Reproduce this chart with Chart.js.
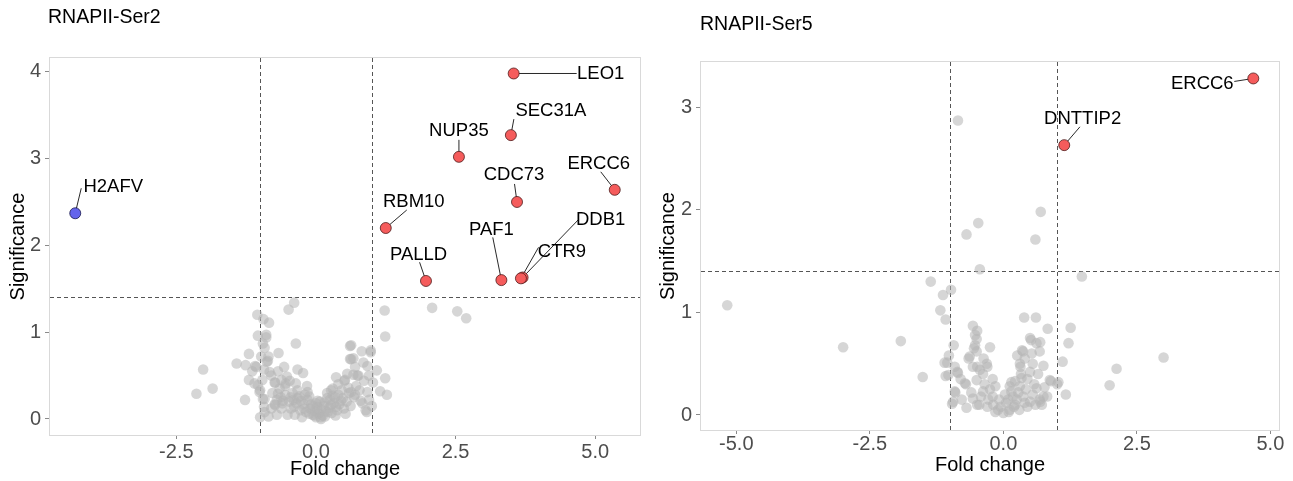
<!DOCTYPE html>
<html><head><meta charset="utf-8">
<script src="https://cdn.jsdelivr.net/npm/chart.js@4/dist/chart.umd.min.js"></script>
<style>
html,body{margin:0;padding:0;background:#fff;width:1293px;height:481px;overflow:hidden}
#c1{position:absolute;left:0;top:0}
#c2{position:absolute;left:650px;top:0}
</style></head><body>
<canvas id="c1" width="650" height="481"></canvas>
<canvas id="c2" width="643" height="481"></canvas>
<script>
// ---------------- DATA ----------------
const ser2Title = 'RNAPII-Ser2';
const ser5Title = 'RNAPII-Ser5';
const xAxisTitle = 'Fold change';
const yAxisTitle = 'Significance';

const fcThresholds = [-1, 1];
const sigThreshold = 1.4;

const ser2XTicks = [-2.5, 0, 2.5, 5];
const ser2YTicks = [0, 1, 2, 3, 4];
const ser5XTicks = [-5, -2.5, 0, 2.5, 5];
const ser5YTicks = [0, 1, 2, 3];

// Ser2 significant up (red)
const ser2UpGenes = ['LEO1','SEC31A','NUP35','ERCC6','CDC73','RBM10','PAF1','DDB1','CTR9','PALLD'];
const ser2UpFC    = [3.54, 3.49, 2.56, 5.35, 3.60, 1.25, 3.32, 3.70, 3.67, 1.97];
const ser2UpSig   = [3.98, 3.27, 3.02, 2.64, 2.50, 2.20, 1.60, 1.63, 1.62, 1.59];
// Ser2 significant down (blue)
const ser2DownGenes = ['H2AFV'];
const ser2DownFC    = [-4.31];
const ser2DownSig   = [2.37];

// Ser2 non-significant (grey) [fold change, significance]
const ser2Grey = [
[-0.39,1.34],[-0.49,1.26],[-1.05,1.20],[-0.94,1.15],[-0.84,1.11],[-1.04,0.96],[-0.89,0.97],[-0.36,0.87],
[-0.92,0.82],[-1.20,0.75],[-0.67,0.76],[-0.85,0.72],[-0.88,0.66],[-1.42,0.64],[-1.26,0.62],[-1.09,0.61],
[-2.02,0.57],[-1.14,0.55],[-0.93,0.57],[-0.83,0.54],[-0.33,0.57],[-0.23,0.53],[-1.20,0.45],[-0.73,0.42],
[-0.52,0.49],[-1.04,0.39],[-1.85,0.35],[-2.14,0.29],[-1.00,0.33],[-0.36,0.41],[-0.16,0.38],[-1.27,0.22],
[-0.95,0.23],[-0.73,0.16],[-0.63,0.25],[-0.51,0.05],[-0.93,0.14],
[1.23,1.25],[2.08,1.28],[2.53,1.24],[2.69,1.16],[1.24,0.95],[0.61,0.84],[0.82,0.78],[0.98,0.79],
[0.61,0.69],[0.67,0.70],[0.92,0.61],[1.09,0.56],[0.67,0.51],[0.76,0.50],[0.52,0.45],[0.86,0.44],
[1.24,0.47],[0.30,0.35],[0.59,0.30],[0.92,0.31],[1.15,0.32],[1.27,0.28],[0.83,0.18],[0.91,0.08],
[0.03,0.21],[0.45,0.21],[0.27,0.16],
[-0.57,0.60],[-0.74,0.42],[-0.54,0.41],[-0.15,0.31],[-0.33,0.33],[-0.68,0.29],[-0.59,0.21],[-0.45,0.25],
[-0.27,0.21],[-0.09,0.17],[0.03,0.10],[-0.03,0.04],[0.09,0.00],[-0.12,0.06],[-0.21,0.12],[-0.39,0.14],
[0.15,0.19],[0.27,0.33],[0.30,0.27],[0.21,0.08],[0.36,0.14],[0.51,0.44],[0.63,0.31],[0.63,0.85],
[0.63,0.69],[0.56,0.52],[0.74,0.50],[0.68,0.25],[0.80,0.21],[0.89,0.10],[-1.10,0.41],[-1.01,0.31],
[-0.92,0.23],[-0.92,0.08],[-0.74,0.17],[-0.86,0.67],[-1.07,0.60],[-0.89,0.94],[0.98,0.77],
[-0.60,0.18],[-0.55,0.28],[-0.48,0.20],[-0.42,0.30],[-0.40,0.22],[-0.35,0.18],[-0.30,0.26],[-0.28,0.10],
[-0.22,0.17],[-0.18,0.08],[-0.15,0.22],[-0.10,0.12],[-0.06,0.05],[-0.05,0.15],[0.00,0.02],[0.02,0.14],
[0.05,0.06],[0.07,0.20],[0.10,0.11],[0.12,0.04],[0.14,0.15],[0.18,0.09],[0.20,0.24],[0.24,0.13],
[0.25,0.22],[0.28,0.07],[0.32,0.18],[0.34,0.25],[0.38,0.10],[0.40,0.28],[0.42,0.17],[0.48,0.24],
[0.50,0.12],[0.55,0.20],[0.58,0.36],[0.62,0.15],[0.70,0.28],[0.72,0.38],[0.78,0.33],[-0.65,0.35],
[-0.70,0.22],[-0.78,0.30],[-0.80,0.12],[-0.62,0.12],[-0.45,0.12],[-0.38,0.05],[-0.33,0.24],[-0.25,0.02],
[-0.20,0.28],[-0.12,0.26],[-0.02,0.09],[0.00,0.18],[0.08,0.02],[0.16,0.03],[0.20,0.30],[0.35,0.04],
[0.46,0.33],[0.53,0.06],[-0.55,0.38],[-0.47,0.44],[-0.62,0.45],[-0.80,0.50],[-0.68,0.55],[-0.96,0.45],
[-0.98,0.72],[-0.95,0.87],[0.40,0.40],[0.36,0.48],[0.70,0.60],[0.85,0.65],[0.95,0.50],[1.02,0.42],
[0.95,0.22],[1.00,0.15],[-1.00,0.02],[-0.85,0.03],[-0.70,0.05]
];

// Ser5 significant up (red)
const ser5UpGenes = ['ERCC6','DNTTIP2'];
const ser5UpFC    = [4.68, 1.14];
const ser5UpSig   = [3.28, 2.63];

// Ser5 non-significant (grey)
const ser5Grey = [
[-0.85,2.87],[0.70,1.98],[-0.47,1.87],[-0.69,1.76],[0.60,1.71],[-0.44,1.42],[1.47,1.35],[-1.36,1.30],
[-0.98,1.22],[-1.13,1.17],[-5.17,1.07],[-1.18,1.02],[-1.08,0.93],[0.39,0.95],[0.61,0.95],[0.83,0.84],
[1.26,0.85],[-0.57,0.87],[-0.49,0.82],[-1.92,0.72],[-3.00,0.66],[1.22,0.70],[-0.50,0.74],[0.52,0.73],
[0.69,0.71],[-0.25,0.66],[-0.93,0.68],[-0.55,0.65],[1.11,0.52],[-1.51,0.37],[1.17,0.20],[1.01,0.30],
[0.89,0.33],[-1.02,0.58],[-1.05,0.51],[-1.08,0.38],[-0.86,0.42],[-0.65,0.55],[-0.37,0.55],[-0.49,0.47],
[-0.30,0.47],[-0.70,0.30],[-0.90,0.22],[-0.96,0.11],[-0.69,0.07],[-0.49,0.10],[-0.15,0.28],[0.26,0.58],
[0.35,0.63],[0.75,0.48],[0.50,0.42],[0.32,0.47],[0.77,0.27],[0.82,0.18],[0.69,0.13],[0.72,0.10],
[3.00,0.56],[2.12,0.45],[1.99,0.29],
[-1.10,0.51],[-0.91,0.47],[-1.03,0.39],[-0.85,0.41],[-0.72,0.31],[-0.91,0.23],[-0.94,0.13],[-0.78,0.15],
[-0.57,0.16],[-0.50,0.34],[-0.44,0.44],[-0.57,0.47],[-0.31,0.50],[-0.63,0.57],[-0.53,0.68],[-0.50,0.62],
[-0.53,0.78],[-0.38,0.23],[-0.28,0.15],[-0.19,0.10],[-0.10,0.05],[0.00,0.02],[0.12,0.05],[0.22,0.10],
[0.09,0.15],[0.15,0.23],[0.15,0.32],[0.31,0.28],[0.37,0.18],[0.34,0.36],[0.31,0.50],[0.50,0.75],
[0.62,0.70],[0.37,0.62],[0.53,0.60],[0.68,0.62],[0.62,0.26],[0.75,0.18],[0.87,0.34],[0.68,0.15],
[0.50,0.13],[1.03,0.32],
[-0.05,0.08],[0.05,0.12],[0.10,0.03],[-0.15,0.03],[0.18,0.18],[0.25,0.15],[0.28,0.22],[0.20,0.08],
[0.30,0.05],[0.40,0.12],[0.42,0.25],[0.45,0.08],[0.55,0.20],[0.60,0.10],[-0.20,0.18],[-0.30,0.08],
[-0.35,0.30],[-0.42,0.18],[-0.25,0.25],[0.03,0.20],[-0.08,0.15],[0.12,0.28],[0.22,0.33],[0.33,0.40],
[0.45,0.35],[0.58,0.30],[-0.60,0.22],[-0.80,0.35],[-0.45,0.10],[0.65,0.40],[0.55,0.50],[0.40,0.55],
[-0.38,0.40],[-0.20,0.35]
];

// ---------------- LAYOUT / STYLE ----------------
const FONT = "'Liberation Sans', Arial, Helvetica, sans-serif";
// label placement (pixel offsets from the point): text centre (dx,dy), segment end (sx,sy)
const ser2LabelLayout = {
  LEO1:{dx:87,dy:0,sx:63,sy:0}, SEC31A:{dx:40,dy:-24,sx:3,sy:-16}, NUP35:{dx:0,dy:-26,sx:0,sy:-17},
  ERCC6:{dx:-16,dy:-26,sx:-14,sy:-18}, CDC73:{dx:-3,dy:-27,sx:-2.5,sy:-18}, RBM10:{dx:28,dy:-26,sx:21,sy:-18},
  PAF1:{dx:-10,dy:-50,sx:-8.6,sy:-42.7}, DDB1:{dx:78,dy:-58,sx:56,sy:-58}, CTR9:{dx:41,dy:-26,sx:17.6,sy:-31},
  PALLD:{dx:-7.4,dy:-26.4,sx:-6.4,sy:-18.7}, H2AFV:{dx:38,dy:-26.6,sx:6,sy:-25}
};
const ser5LabelLayout = {
  ERCC6:{dx:-51,dy:5.3,sx:-19,sy:3}, DNTTIP2:{dx:18.4,dy:-26,sx:15.7,sy:-18.3}
};

function toPts(xs, ys){ return xs.map((x,i)=>({x:x, y:ys[i]})); }
function pairPts(arr){ return arr.map(p=>({x:p[0], y:p[1]})); }

function decorPlugin(cfg){
  return {
    id:'decor',
    beforeDatasetsDraw(chart){
      const {ctx, chartArea:a, scales:{x, y}} = chart;
      ctx.save();
      ctx.strokeStyle = '#d9d9d9'; ctx.lineWidth = 1;
      ctx.strokeRect(Math.round(a.left)+0.5, Math.round(a.top)+0.5, Math.round(a.right-a.left)-1, Math.round(a.bottom-a.top)-1);
      ctx.strokeStyle = '#555'; ctx.setLineDash([4,3]); ctx.lineWidth = 1;
      fcThresholds.forEach(v=>{
        const px = Math.round(x.getPixelForValue(v))+0.5;
        ctx.beginPath(); ctx.moveTo(px, a.top+1); ctx.lineTo(px, a.bottom-1); ctx.stroke();
      });
      const py = Math.round(y.getPixelForValue(sigThreshold))+0.5;
      ctx.beginPath(); ctx.moveTo(a.left+1, py); ctx.lineTo(a.right-1, py); ctx.stroke();
      ctx.setLineDash([]);
      ctx.strokeStyle = '#111'; ctx.lineWidth = 0.9;
      cfg.labels.forEach(l=>{
        const L = cfg.layout[l.name];
        const px = x.getPixelForValue(l.x), pyy = y.getPixelForValue(l.y);
        ctx.beginPath(); ctx.moveTo(px, pyy); ctx.lineTo(px+L.sx, pyy+L.sy); ctx.stroke();
      });
      ctx.restore();
    },
    afterDatasetsDraw(chart){
      const {ctx, scales:{x, y}} = chart;
      ctx.save();
      ctx.fillStyle = '#000'; ctx.font = '18.5px ' + FONT;
      ctx.textAlign = 'center'; ctx.textBaseline = 'middle';
      cfg.labels.forEach(l=>{
        const L = cfg.layout[l.name];
        const px = x.getPixelForValue(l.x), pyy = y.getPixelForValue(l.y);
        ctx.fillText(l.name, px+L.dx, pyy+L.dy);
      });
      ctx.restore();
    },
    afterDraw(chart){
      const ctx = chart.ctx;
      ctx.save();
      ctx.fillStyle = '#000'; ctx.font = '19.5px ' + FONT;
      ctx.textAlign = 'left'; ctx.textBaseline = 'middle';
      ctx.fillText(cfg.title, cfg.titleX, cfg.titleY);
      ctx.restore();
    }
  };
}

function makeChart(canvasId, o){
  const tickFont = {family: FONT, size: 20};
  return new Chart(document.getElementById(canvasId), {
    type:'scatter',
    data:{ datasets: o.datasets },
    options:{
      responsive:false, animation:false, events:[],
      layout:{ padding:{ left:0, top:o.padTop, right:o.padRight, bottom:0 } },
      plugins:{ legend:{display:false}, tooltip:{enabled:false}, title:{display:false} },
      scales:{
        x:{ type:'linear', min:o.xMin, max:o.xMax,
            afterBuildTicks:s=>{ s.ticks = o.xTicks.map(v=>({value:v})); },
            afterFit:s=>{ s.height = o.xAxisH; },
            ticks:{ color:'#4d4d4d', font:tickFont, padding:o.xTickPad, maxRotation:0, autoSkip:false,
                    callback:v=>Number(v).toFixed(1) },
            grid:{ display:true, drawOnChartArea:false, drawTicks:true, tickLength:3, color:'#8a8a8a' },
            border:{ display:false },
            title:{ display:true, text:xAxisTitle, color:'#000', font:{family:FONT,size:20}, padding:{top:0,bottom:o.xTitlePad} } },
        y:{ type:'linear', min:o.yMin, max:o.yMax,
            afterBuildTicks:s=>{ s.ticks = o.yTicks.map(v=>({value:v})); },
            afterFit:s=>{ s.width = o.yAxisW; },
            ticks:{ color:'#4d4d4d', font:tickFont, padding:4, autoSkip:false, callback:v=>String(v) },
            grid:{ display:true, drawOnChartArea:false, drawTicks:true, tickLength:4, color:'#8a8a8a' },
            border:{ display:false },
            title:{ display:true, text:yAxisTitle, color:'#000', font:{family:FONT,size:20}, padding:{top:6,bottom:0} } }
      }
    },
    plugins:[ decorPlugin(o.decor) ]
  });
}

const greyStyle = { backgroundColor:'rgba(180,180,180,0.55)', borderWidth:0, pointRadius:5.3, order:3 };
const redStyle  = { backgroundColor:'rgb(245,92,92)', borderColor:'rgba(70,20,20,0.95)', borderWidth:0.8, pointRadius:5.5, order:1 };
const blueStyle = { backgroundColor:'rgb(100,100,236)', borderColor:'rgba(20,20,70,0.95)', borderWidth:0.8, pointRadius:5.5, order:1 };

const ser2Labels = ser2UpGenes.map((g,i)=>({name:g, x:ser2UpFC[i], y:ser2UpSig[i]}))
  .concat(ser2DownGenes.map((g,i)=>({name:g, x:ser2DownFC[i], y:ser2DownSig[i]})));
const ser5Labels = ser5UpGenes.map((g,i)=>({name:g, x:ser5UpFC[i], y:ser5UpSig[i]}));

makeChart('c1', {
  datasets:[
    Object.assign({label:'Up', data:toPts(ser2UpFC, ser2UpSig)}, redStyle),
    Object.assign({label:'Down', data:toPts(ser2DownFC, ser2DownSig)}, blueStyle),
    Object.assign({label:'NS', data:pairPts(ser2Grey)}, greyStyle)
  ],
  xMin:-4.78, xMax:5.82, yMin:-0.196, yMax:4.17,
  xTicks:ser2XTicks, yTicks:ser2YTicks,
  padTop:57, padRight:9, xAxisH:45, yAxisW:49, xTitlePad:0, xTickPad:1,
  decor:{ labels:ser2Labels, layout:ser2LabelLayout, title:ser2Title, titleX:48, titleY:18 }
});

makeChart('c2', {
  datasets:[
    Object.assign({label:'Up', data:toPts(ser5UpFC, ser5UpSig)}, redStyle),
    Object.assign({label:'NS', data:pairPts(ser5Grey)}, greyStyle)
  ],
  xMin:-5.68, xMax:5.18, yMin:-0.156, yMax:3.45,
  xTicks:ser5XTicks, yTicks:ser5YTicks,
  padTop:61, padRight:13, xAxisH:50, yAxisW:50, xTitlePad:4, xTickPad:-2,
  decor:{ labels:ser5Labels, layout:ser5LabelLayout, title:ser5Title, titleX:50, titleY:25 }
});
</script>
</body></html>
